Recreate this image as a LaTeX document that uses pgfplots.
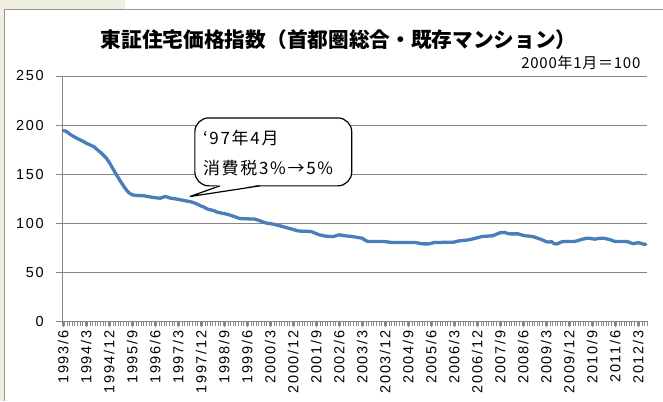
\documentclass[border=0pt]{standalone}
\usepackage{pgfplots}
\pgfplotsset{compat=1.18}
\usepackage{pgfplotstable}
\usepackage{fontspec}
\setmainfont{Liberation Sans}
\newfontfamily\tickfont[LetterSpace=12]{Liberation Sans}
\newfontfamily\cjk{Noto Sans CJK JP}
\newfontfamily\cjkwide[LetterSpace=10]{Noto Sans CJK JP}
\newfontfamily\cjkmid[LetterSpace=5]{Noto Sans CJK JP}
\definecolor{bgbeige}{RGB}{241,239,226}
\definecolor{bordergray}{RGB}{150,150,150}
\definecolor{gridgray}{RGB}{134,134,134}
\definecolor{lineblue}{RGB}{74,126,187}
\pgfplotstableread{
i v
0 194.3
1 193.8
2 192
3 190
4 188.5
5 187
6 185.7
7 184.4
8 183.1
9 181.5
10 180.3
11 179.2
12 178
13 175.7
14 173.5
15 171.3
16 168.6
17 165.9
18 162
19 157.5
20 153
21 148.7
22 144.5
23 140.3
24 136.5
25 133
26 130.5
27 129
28 128.5
29 128.3
30 128.2
31 128
32 127.8
33 127.3
34 126.8
35 126.3
36 126
37 125.7
38 125.5
39 126.5
40 127.2
41 126.5
42 125.5
43 125.2
44 124.8
45 124.4
46 123.8
47 123.3
48 122.8
49 122.3
50 121.8
51 121
52 120
53 118.8
54 117.5
55 116.6
56 115
57 114
58 113.5
59 112.8
60 111.5
61 111
62 110.3
63 109.8
64 109.3
65 108.5
66 107.6
67 106.8
68 105.8
69 104.9
70 104.7
71 104.6
72 104.5
73 104.4
74 104.3
75 104.2
76 103.4
77 102.5
78 101.5
79 100.5
80 100
81 99.6
82 99.2
83 98.6
84 97.9
85 97.3
86 96.6
87 95.8
88 95.1
89 94.4
90 93.6
91 92.9
92 92.2
93 92
94 91.9
95 91.8
96 91.7
97 91.6
98 90.5
99 89.5
100 88.4
101 87.8
102 87.2
103 86.8
104 86.6
105 86.5
106 86.6
107 87.5
108 88.2
109 87.8
110 87.3
111 87
112 86.8
113 86.5
114 86.1
115 85.7
116 85.2
117 84.8
118 83
119 81.6
120 81.4
121 81.4
122 81.4
123 81.4
124 81.4
125 81.4
126 81.3
127 81
128 80.6
129 80.4
130 80.4
131 80.4
132 80.4
133 80.4
134 80.4
135 80.4
136 80.4
137 80.4
138 80.3
139 79.8
140 79.2
141 79
142 79
143 79
144 79.5
145 80.3
146 80.4
147 80.5
148 80.5
149 80.6
150 80.6
151 80.7
152 80.7
153 80.8
154 81.5
155 82.1
156 82.3
157 82.6
158 82.9
159 83.2
160 83.9
161 84.5
162 85.2
163 85.9
164 86.5
165 86.7
166 86.9
167 87.1
168 87.2
169 88.2
170 89.3
171 90.4
172 90.5
173 90.5
174 89.5
175 89.2
176 89.2
177 89.2
178 89.2
179 88.5
180 87.7
181 87.2
182 87
183 86.7
184 86.3
185 85.4
186 84.5
187 83.6
188 82.5
189 81.3
190 80.8
191 81.4
192 79.5
193 78.7
194 79.8
195 81
196 81.4
197 81.4
198 81.4
199 81.4
200 81.4
201 82
202 82.8
203 83.6
204 84.2
205 84.8
206 84.8
207 84.2
208 83.8
209 84.2
210 84.6
211 84.8
212 84.6
213 83.9
214 83.3
215 82.3
216 81.5
217 81.4
218 81.4
219 81.4
220 81.4
221 81.2
222 80.2
223 79.2
224 79.6
225 80.3
226 79.6
227 78.8
228 78.5
}\datatable
\begin{document}
\begin{tikzpicture}[x=1pt,y=1pt]
\fill[bgbeige] (0,0) rectangle (663,401);
\fill[white] (5,0) rectangle (663,391);
\fill[white] (125,391) rectangle (663,401);
\draw[bordergray, line width=1pt] (5,0) -- (5,391) -- (663,391);
\path[use as bounding box] (0,0) rectangle (663,401);
\begin{axis}[
  at={(62pt,79.3pt)}, anchor=south west,
  scale only axis, width=585.5pt, height=245.7pt,
  xmin=-0.5, xmax=228.5, ymin=0, ymax=250,
  axis x line*=bottom, axis y line*=left,
  axis line style={-, draw=gridgray, line width=0.8pt},
  ytick={0,50,...,250},
  ymajorgrids, grid style={draw=gridgray, line width=0.8pt},
  major tick style={draw=gridgray, line width=0.8pt},
  minor tick style={draw=gridgray, line width=0.5pt},
  tick align=outside,
  major tick length=6pt,
  minor tick length=4.5pt,
  xtick={0,9,...,225},
  xticklabels={1993/6,1994/3,1994/12,1995/9,1996/6,1997/3,1997/12,1998/9,1999/6,2000/3,2000/12,2001/9,2002/6,2003/3,2003/12,2004/9,2005/6,2006/3,2006/12,2007/9,2008/6,2009/3,2009/12,2010/9,2011/6,2012/3},
  minor xtick={-0.5,0.5,...,228.5},
  x tick label style={rotate=90, anchor=east, font=\tickfont\fontsize{14.5}{17}\selectfont, inner sep=1pt},
  y tick label style={font=\tickfont\fontsize{14.5}{17}\selectfont, inner sep=1pt},
  /pgf/number format/assume math mode=true,
  xticklabel shift=2pt,
  yticklabel shift=11pt,
  clip=false,
]
\addplot[lineblue, line width=3.3pt, line join=round, line cap=round] table[x=i, y=v] {\datatable};
\end{axis}
\node[font=\cjk\bfseries\fontsize{20.7}{24}\selectfont] at (339,361) {東証住宅価格指数（首都圏総合・既存マンション）};
\node[font=\cjkmid\fontsize{15}{17}\selectfont, anchor=east, inner sep=0pt] at (641,338) {2000年1月＝100};
\draw[black, line width=1.2pt, fill=white, rounded corners=14pt] (195,215) rectangle (352,283);
\fill[white] (220,216.2) -- (190,204.3) -- (260,216.2) -- cycle;
\draw[black, line width=1.2pt, line join=miter] (220,215) -- (190,204.3) -- (260,215);
\node[font=\cjkwide\fontsize{17}{19}\selectfont, anchor=west, inner sep=0pt] at (203,263) {‘97年4月};
\node[font=\cjkwide\fontsize{17}{19}\selectfont, anchor=west, inner sep=0pt] at (203,233) {消費税3\%→5\%};
\end{tikzpicture}
\end{document}
